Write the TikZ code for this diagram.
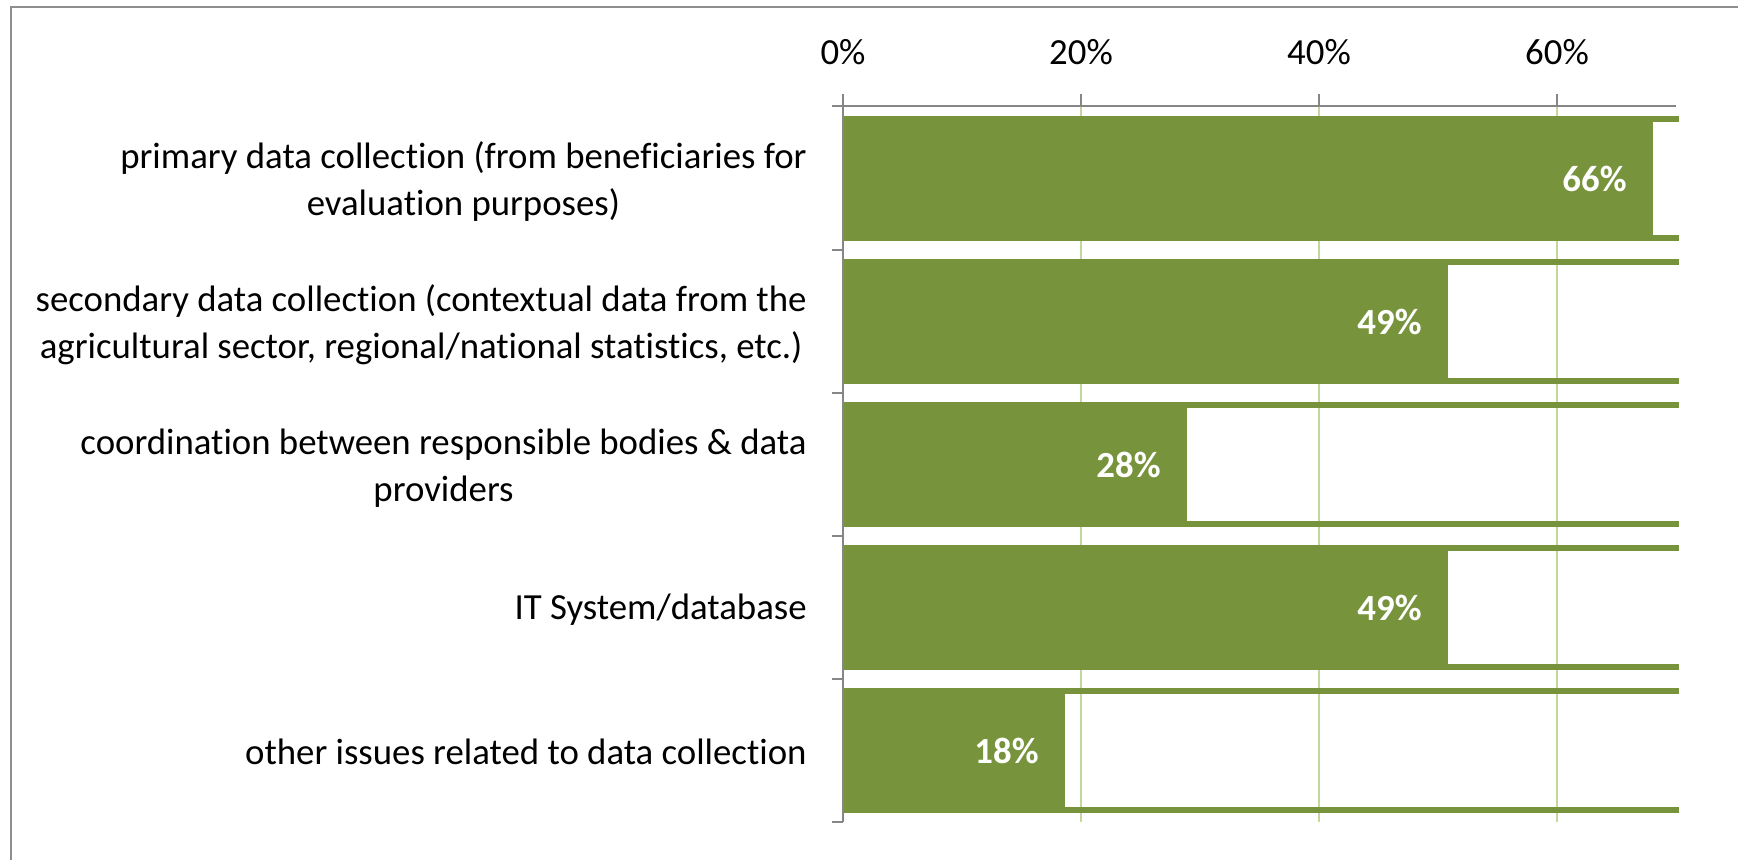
\documentclass[tikz,border=0pt]{standalone}
\usepackage{fontspec}
\setmainfont{Carlito}[Ligatures=NoCommon]
\definecolor{barc}{HTML}{77933C}
\definecolor{gridc}{HTML}{C3D69B}
\definecolor{axisc}{HTML}{868686}
\definecolor{framec}{HTML}{8E8E8E}
\begin{document}
\begin{tikzpicture}[x=0.5pt,y=-0.5pt,
  cat/.style={anchor=east, align=center, font=\fontsize{18.4}{23.5}\selectfont, inner sep=0pt},
  val/.style={anchor=east, text=white, font=\fontsize{18.4}{21}\selectfont\bfseries, inner sep=0pt},
  ticklabel/.style={anchor=base, font=\fontsize{18.4}{21}\selectfont, inner sep=0pt},
  axisline/.style={draw=axisc, line width=1.2pt},
  gridline/.style={draw=gridc, line width=1pt},
  framel/.style={draw=framec, line width=1.4pt},
  barfill/.style={fill=barc},
]
\useasboundingbox (0,0) rectangle (1738,860);
\fill[white] (0,0) rectangle (1738,860);
% outer frame (cropped)
\draw[framel] (11,860) -- (11,7) -- (1738,7);
% gridlines
\foreach \x in {1081,1319,1557} \draw[gridline] (\x,106) -- (\x,822);
% bars
\foreach \t/\fe/\v [count=\i] in {116/1653/66, 259/1448/49, 402/1187/28, 545/1448/49, 688/1065/18}{
  \fill[barfill] (843,\t) rectangle (1679,\t+6);
  \fill[barfill] (843,\t+119) rectangle (1679,\t+125);
  \fill[barfill] (843,\t) rectangle (\fe,\t+125);
  \node[val] (val\i) at (\fe-26,\t+63) {\v\%};
}
% axes
\draw[axisline] (832,106) -- (1676,106);
\foreach \x in {843,1081,1319,1557} \draw[axisline] (\x,94) -- (\x,106);
\draw[axisline] (843,106) -- (843,822);
\foreach \y in {250,393,536,679,822} \draw[axisline] (832,\y) -- (843,\y);
% tick labels
\node[ticklabel] (t0) at (843,65) {0\%};
\node[ticklabel] (t20) at (1081,65) {20\%};
\node[ticklabel] (t40) at (1319,65) {40\%};
\node[ticklabel] (t60) at (1557,65) {60\%};
% category labels
\node[cat] (c1) at (807,182) {primary data collection (from beneficiaries for\\evaluation purposes)};
\node[cat] (c2) at (807,325) {secondary data collection (contextual data from the\\agricultural sector, regional/national statistics, etc.)};
\node[cat] (c3) at (807,468) {coordination between responsible bodies \& data\\providers};
\node[cat] (c4) at (807,610) {IT System/database};
\node[cat] (c5) at (807,752) {other issues related to data collection};
\end{tikzpicture}
\end{document}
